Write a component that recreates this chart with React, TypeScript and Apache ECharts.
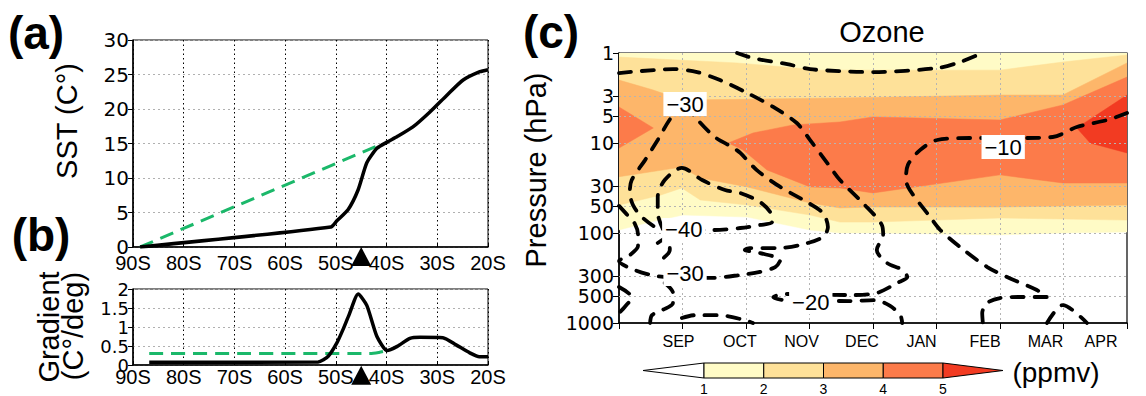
import React, { useEffect, useRef } from 'react';
import * as echarts from 'echarts';

// ---------------- Panel (a): SST profile (lat, °C) ----------------
const latTicks = [-90, -80, -70, -60, -50, -40, -30, -20];
const sstTicks = [0, 5, 10, 15, 20, 25, 30];
const sstObserved = [
  [-88.6, 0], [-51, 2.9], [-49.8, 3.8], [-47.6, 5.4], [-45.6, 8.3], [-43.9, 12.2],
  [-41.9, 14.3], [-39.9, 15.2], [-37.9, 16.0], [-34.8, 17.4], [-31.4, 19.6],
  [-28.1, 22.0], [-24.9, 24.2], [-21.6, 25.4], [-20, 25.7],
];
const sstLinear = [[-88.6, 0], [-41.7, 14.7]];

// ---------------- Panel (b): SST gradient (lat, °C/deg) ----------------
const gradTicks = [0, 0.5, 1, 1.5, 2];
const gradObserved = [
  [-86.8, 0.07], [-53.5, 0.08], [-51.5, 0.23], [-49.8, 0.58], [-48.6, 0.93],
  [-47.4, 1.32], [-45.6, 1.87], [-43.9, 1.57], [-41.9, 0.75], [-39.9, 0.38],
  [-37.9, 0.49], [-35.4, 0.7], [-33.4, 0.73], [-28.9, 0.72], [-26.3, 0.53],
  [-23.6, 0.32], [-21.7, 0.22], [-20, 0.22],
];
const gradLinear = [[-86.8, 0.3], [-43.3, 0.3], [-41.5, 0.33], [-39.9, 0.38]];
const frontLatitude = -45;

// ---------------- Panel (c): ozone (month index, hPa) ----------------
const monthLabels = ['', 'SEP', 'OCT', 'NOV', 'DEC', 'JAN', 'FEB', 'MAR', 'APR'];
const pressureLabels = [1, 3, 5, 10, 30, 50, 100, 300, 500, 1000];
const ozoneLevels = [1, 2, 3, 4, 5];
const ozoneColors = ['#FFFFFF', '#FFFBC6', '#FEE199', '#FDB66A', '#FC7B4A', '#F23B22'];

// ozone band boundaries (month, pressure)
const ozone1Lower = [[0, 92.6], [0.49, 75.7], [1.01, 63.1], [2.02, 66.5], [3.01, 92.6], [3.48, 100], [4, 100], [6, 105], [6.99, 100], [8, 97.5]];
const ozone2Upper = [[0, 1.11], [1.86, 1.29], [3.17, 1.55], [6, 1.55], [6.99, 1.26], [8, 1.05]];
const ozone2Lower = [[0, 49], [0.65, 38], [0.99, 31.6], [1.28, 43], [2.02, 48.9], [3.01, 63.1], [3.48, 75.7], [4, 75.7], [6, 68.1], [8, 71.9]];
const ozone3Upper = [[0, 2.0], [0.54, 2.58], [0.99, 3.33], [3.48, 3.16], [6, 2.93], [6.99, 2.93], [8, 1.29]];
const ozone3Lower = [[0, 23.7], [0.99, 18.5], [1.28, 24.5], [2.02, 30.8], [3.01, 46.4], [3.48, 52.7], [4, 51.4], [6, 51.4], [8, 48.9]];
const ozone4Upper = [[1.72, 10], [2.11, 7.74], [2.74, 6.3], [3.48, 5.84], [4, 5.13], [6, 5.55], [6.99, 3.78], [8, 1.85]];
const ozone4Lower = [[1.72, 10], [1.95, 11.9], [2.33, 19.9], [3.01, 30.8], [3.48, 31.6], [4, 35.9], [6, 22.6], [6.99, 27.8], [8, 27.8]];
const ozone4Blob = [[0, 3.98], [0.54, 6.81], [0, 11.4]];
const ozone5Patch = [[7.21, 6.81], [8, 2.93], [8, 12.9], [7.42, 10]];

// ozone change contours (%), dashed
const contourTop = [[1.86, 1], [2.11, 1.14], [2.65, 1.33], [3.01, 1.51], [3.48, 1.59], [4.0, 1.63], [5.01, 1.47], [5.37, 1.26], [5.72, 1]];
const contourOuter = [[0, 1.67], [0.33, 1.59], [0.85, 1.51], [1.23, 1.63], [1.59, 2.0], [2.02, 2.78], [2.43, 3.98], [2.8, 6.0], [3.01, 9.3], [3.28, 16.7], [3.48, 25.8], [3.84, 46.4], [4.14, 81.5], [4.16, 105], [4.06, 154], [4.22, 215], [4.47, 258], [4.54, 309], [4.38, 359], [4.06, 464], [3.64, 489], [2.61, 476], [2.43, 517], [2.61, 557], [3.64, 570], [4.03, 557], [4.27, 647], [4.43, 818], [4.46, 1000]];
const contourA = [[1.07, 3.69], [0.83, 5.14], [0.61, 9.26], [0.41, 15.5], [0.2, 25.8], [0.17, 35], [0.22, 48.9], [0.36, 66.4], [0.57, 85.8], [0.69, 90.3]];
const contourC = [[0.69, 90.3], [0.61, 59.9], [0.61, 39.8], [0.72, 25.8], [0.99, 18.9], [1.31, 25.8], [1.67, 33.3], [1.91, 35.9], [2.22, 45.3], [2.38, 58.5], [2.41, 75.5], [2.22, 81.5], [1.91, 88], [1.48, 92.6], [1.04, 92.6]];
const contourB = [[1.07, 3.69], [1.2, 5.14], [1.51, 8.58], [1.78, 11.1], [1.91, 12.9], [2.17, 20], [2.54, 30.8], [2.96, 45.3], [3.21, 59.9], [3.29, 85.8], [3.21, 111], [2.85, 136], [2.49, 147], [2.06, 147], [1.98, 154], [2.22, 167], [2.54, 200], [2.46, 239], [2.22, 271], [1.91, 293], [1.43, 316], [1.04, 286]];
const contourD = [[0, 50], [0.13, 63], [0.25, 79], [0.3, 105], [0.3, 139], [0.17, 176], [0, 205], [0.25, 258], [0.57, 300], [0.8, 309]];
const contourF = [[0.61, 129], [0.77, 111], [0.8, 154], [0.6, 215]];
const contourG = [[0.72, 359], [0.85, 464], [0.85, 600], [0.68, 719], [0.52, 818], [0.49, 1000]];
const contourH = [[0, 398], [0.2, 517], [0.09, 664], [0, 776]];
const contourI = [[0.99, 880], [1.2, 818], [1.56, 818], [1.98, 928], [2.11, 1000]];
const contourJ = [[8, 4.64], [7.69, 5.55], [7.21, 6.64], [6.83, 8.58], [6.31, 8.8], [5.53, 8.8], [5.01, 9.26], [4.74, 12], [4.55, 17.5], [4.52, 25.8], [4.58, 33.3], [4.9, 66.4], [5.06, 92.6], [5.37, 143], [5.8, 239], [6.11, 308], [6.58, 430], [6.74, 514], [6.31, 514], [6.0, 528], [5.8, 599], [5.72, 774], [5.73, 1000]];
const contourK = [[6.74, 1000], [6.99, 632], [7.37, 1000]];
const contourLabelPos = [[1.04, 3.69], [1.02, 92.6], [1.04, 285], [3.02, 585], [6.05, 11.1]];
const contourLabelText = ['−30', '−40', '−30', '−20', '−10'];

// ---------------- layout constants ----------------
const FONT = '"Liberation Sans", Arial, sans-serif';
const NUMFONT = '"DejaVu Sans", sans-serif';
const monthLabelShift = [0, 4, 6, 8, 11, 15, 15, 18, 26];

const rev = (a: number[][]) => [...a].reverse();

const fillPolys = [
  { color: ozoneColors[1], pts: [[0, 1], [8, 1], ...rev(ozone1Lower)] },
  { color: ozoneColors[2], pts: [...ozone2Upper, ...rev(ozone2Lower)] },
  { color: ozoneColors[3], pts: [...ozone3Upper, ...rev(ozone3Lower)] },
  { color: ozoneColors[4], pts: [...ozone4Upper, ...rev(ozone4Lower)] },
  { color: ozoneColors[4], pts: ozone4Blob },
  { color: ozoneColors[5], pts: ozone5Patch },
];

const contours = [contourTop, contourOuter, contourA, contourC, contourB, contourD, contourF, contourG, contourH, contourI, contourJ, contourK];

const axisLineStyle = { color: '#000', width: 1.5 };

function latAxis(gridIndex: number, margin: number) {
  return {
    type: 'value', gridIndex, min: latTicks[0], max: latTicks[latTicks.length - 1], interval: 10,
    axisLine: { show: true, onZero: false, lineStyle: axisLineStyle },
    axisTick: { show: true, inside: true, length: 4, lineStyle: { color: '#000' } },
    axisLabel: { customValues: latTicks, formatter: (v: number) => `${-v}S`, fontSize: 20, lineHeight: 18, color: '#000', fontFamily: FONT, margin },
    splitLine: { show: true, lineStyle: { color: '#000', type: [1.5, 3], width: 1 } },
  };
}

function valAxis(gridIndex: number, ticks: number[], showLabels: boolean) {
  return {
    type: 'value', gridIndex, min: ticks[0], max: ticks[ticks.length - 1], interval: ticks[1] - ticks[0],
    axisLine: { show: true, onZero: false, lineStyle: axisLineStyle },
    axisTick: { show: true, inside: false, length: 5, lineStyle: { color: '#000' } },
    axisLabel: { show: showLabels, customValues: ticks, fontSize: 20, lineHeight: 16, color: '#000', fontFamily: NUMFONT, margin: 4, formatter: (v: number) => `${v}` },
    splitLine: { show: true, lineStyle: { color: '#b0b0b0', type: [2, 3], width: 1 } },
  };
}

function rotText(text: string, x: number, y: number, size: number, weight = 'normal') {
  return {
    type: 'text', x, y, rotation: Math.PI / 2,
    style: { text, fill: '#000', font: `${weight} ${size}px ${FONT}`, textAlign: 'center', textVerticalAlign: 'middle' },
  };
}
function hText(text: string, x: number, y: number, size: number, weight = 'normal') {
  return {
    type: 'text', x, y,
    style: { text, fill: '#000', font: `${weight} ${size}px ${FONT}`, textAlign: 'center', textVerticalAlign: 'middle' },
  };
}

function buildColorbar() {
  const left = 704, step = 59.75, top = 363, bottom = 378, tip = 60;
  const mid = (top + bottom) / 2;
  const els: any[] = [];
  els.push({ type: 'polygon', shape: { points: [[left - tip - 1, mid], [left, top], [left, bottom]] }, style: { fill: ozoneColors[0], stroke: '#000', lineWidth: 1 } });
  for (let i = 0; i < ozoneLevels.length - 1; i++) {
    els.push({ type: 'rect', shape: { x: left + i * step, y: top, width: step, height: bottom - top }, style: { fill: ozoneColors[i + 1], stroke: '#000', lineWidth: 1 } });
  }
  const rEnd = left + (ozoneLevels.length - 1) * step;
  els.push({ type: 'polygon', shape: { points: [[rEnd, top], [rEnd + tip, mid], [rEnd, bottom]] }, style: { fill: ozoneColors[5], stroke: '#000', lineWidth: 1 } });
  ozoneLevels.forEach((lv, i) => {
    els.push({ type: 'text', x: left + i * step, y: 389, style: { text: String(lv), fill: '#000', font: `14px ${FONT}`, textAlign: 'center', textVerticalAlign: 'middle' } });
  });
  return els;
}

function buildOption() {
  const rich: Record<string, any> = {};
  monthLabels.forEach((m, i) => {
    rich['m' + i] = { fontSize: 16, fontFamily: FONT, color: '#000', padding: [0, monthLabelShift[i] * 2, 0, 0] };
  });

  const series: any[] = [];
  // panel a
  series.push({ type: 'line', xAxisIndex: 0, yAxisIndex: 0, data: sstLinear, symbol: 'none', silent: true, lineStyle: { color: '#1BB86A', width: 3, type: [14, 8] }, z: 3 });
  series.push({ type: 'line', xAxisIndex: 0, yAxisIndex: 0, data: sstObserved, symbol: 'none', smooth: 0.2, silent: true, lineStyle: { color: '#000', width: 3.5 }, z: 4 });
  series.push({ type: 'scatter', xAxisIndex: 0, yAxisIndex: 0, data: [[frontLatitude, -1.38]], symbol: 'triangle', symbolSize: [20, 19], itemStyle: { color: '#000', opacity: 1 }, clip: false, silent: true, z: 6 });
  // panel b
  series.push({ type: 'line', xAxisIndex: 1, yAxisIndex: 1, data: gradLinear, symbol: 'none', smooth: 0.3, silent: true, lineStyle: { color: '#1BB86A', width: 3, type: [14, 8] }, z: 3 });
  series.push({ type: 'line', xAxisIndex: 1, yAxisIndex: 1, data: gradObserved, symbol: 'none', smooth: 0.2, silent: true, lineStyle: { color: '#000', width: 3.5 }, z: 4 });
  series.push({ type: 'scatter', xAxisIndex: 1, yAxisIndex: 1, data: [[frontLatitude, -0.27]], symbol: 'triangle', symbolSize: [20, 19], itemStyle: { color: '#000', opacity: 1 }, clip: false, silent: true, z: 6 });
  // panel b y tick labels (all five kept, placed through the axis scale)
  series.push({
    type: 'custom', xAxisIndex: 1, yAxisIndex: 1, silent: true, z: 6, clip: false,
    data: gradTicks.map((v) => [latTicks[0], v]),
    renderItem: (params: any, api: any) => {
      const pt = api.coord([api.value(0), api.value(1)]);
      return {
        type: 'text', x: pt[0] - 4, y: pt[1],
        style: { text: `${gradTicks[params.dataIndex]}`, fill: '#000', font: `18px ${NUMFONT}`, textAlign: 'right', textVerticalAlign: 'middle' },
      };
    },
  });
  // panel c fills
  series.push({
    type: 'custom', xAxisIndex: 2, yAxisIndex: 2, silent: true, z: 1, clip: true,
    data: fillPolys.map((f) => f.pts[0]),
    renderItem: (params: any, api: any) => {
      const poly = fillPolys[params.dataIndex];
      return {
        type: 'polygon',
        shape: { points: poly.pts.map((pt) => api.coord(pt)) },
        style: { fill: poly.color, stroke: poly.color, lineWidth: 0.5 },
      };
    },
  });
  // panel c grid lines (above fills)
  series.push({
    type: 'line', xAxisIndex: 2, yAxisIndex: 2, data: [], symbol: 'none', silent: true, z: 2,
    markLine: {
      silent: true, symbol: ['none', 'none'], label: { show: false }, animation: false,
      lineStyle: { color: '#b4b4b4', type: [2, 3], width: 1 },
      data: [
        ...pressureLabels.slice(1, -1).map((p) => ({ yAxis: p })),
        ...monthLabels.slice(1, -1).map((_, i) => ({ xAxis: i + 1 })),
      ],
    },
  });
  // contours
  contours.forEach((c) => {
    series.push({
      type: 'line', xAxisIndex: 2, yAxisIndex: 2, data: c, symbol: 'none', smooth: 0.3, silent: true, z: 5,
      lineStyle: { color: '#000', width: 3.8, type: [12, 11], cap: 'round' },
    });
  });
  // contour labels
  series.push({
    type: 'custom', xAxisIndex: 2, yAxisIndex: 2, silent: true, z: 7,
    data: contourLabelPos,
    renderItem: (params: any, api: any) => {
      const pt = api.coord([api.value(0), api.value(1)]);
      return {
        type: 'text', x: pt[0], y: pt[1],
        style: {
          text: contourLabelText[params.dataIndex], fill: '#000', font: `22px ${FONT}`,
          textAlign: 'center', textVerticalAlign: 'middle', backgroundColor: '#fff', padding: [1, 3],
        },
      };
    },
  });

  return {
    animation: false,
    backgroundColor: '#fff',
    textStyle: { fontFamily: FONT },
    grid: [
      { left: 133, top: 40, width: 355, height: 207, show: true, borderColor: '#000', borderWidth: 1, outerBoundsMode: 'none' },
      { left: 133, top: 289, width: 355, height: 76, show: true, borderColor: '#000', borderWidth: 1, outerBoundsMode: 'none' },
      { left: 619, top: 53, width: 508, height: 270, show: true, borderColor: '#000', borderWidth: 1.2, outerBoundsMode: 'none' },
    ],
    xAxis: [
      latAxis(0, 7),
      latAxis(1, 3),
      {
        type: 'value', gridIndex: 2, min: 0, max: monthLabels.length - 1, interval: 1,
        axisLine: { show: true, onZero: false, lineStyle: axisLineStyle },
        axisTick: { show: true, inside: false, length: 6, lineStyle: { color: '#000' } },
        axisLabel: {
          margin: 10, fontSize: 16, color: '#000', fontFamily: FONT, rich,
          formatter: (v: number) => { const i = Math.round(v); return monthLabels[i] ? `{m${i}|${monthLabels[i]}}` : ''; },
        },
        splitLine: { show: false },
      },
    ],
    yAxis: [
      valAxis(0, sstTicks, true),
      valAxis(1, gradTicks, false),
      {
        type: 'log', logBase: 10, gridIndex: 2, min: 1, max: 1000, inverse: true,
        axisLine: { show: true, onZero: false, lineStyle: axisLineStyle },
        axisTick: { show: true, inside: false, length: 6, customValues: pressureLabels, lineStyle: { color: '#000' } },
        axisLabel: { customValues: pressureLabels, fontSize: 19, lineHeight: 16, color: '#000', fontFamily: NUMFONT, margin: 5, formatter: (v: number) => `${+Number(v).toPrecision(3)}` },
        splitLine: { show: false },
        minorTick: { show: false },
      },
    ],
    graphic: [
      hText('(a)', 36, 33, 46, 'bold'),
      hText('(b)', 41, 235, 46, 'bold'),
      hText('(c)', 551, 32, 46, 'bold'),
      rotText('SST (C°)', 67, 121, 29),
      rotText('Gradient', 49, 327, 29),
      rotText('(C°/deg)', 73, 326, 29),
      rotText('Pressure (hPa)', 536, 170, 29),
      hText('Ozone', 882, 32, 29),
      hText('(ppmv)', 1056, 372, 28),
      ...buildColorbar(),
    ],
    series,
  };
}

export default function App() {
  const ref = useRef<HTMLDivElement>(null);
  useEffect(() => {
    if (!ref.current) return;
    const chart = echarts.init(ref.current, undefined, { renderer: 'svg', width: 1146, height: 396 });
    chart.setOption(buildOption() as any);
    return () => chart.dispose();
  }, []);
  return <div ref={ref} style={{ position: 'fixed', left: 0, top: 0, width: 1146, height: 396, background: '#fff' }} />;
}
